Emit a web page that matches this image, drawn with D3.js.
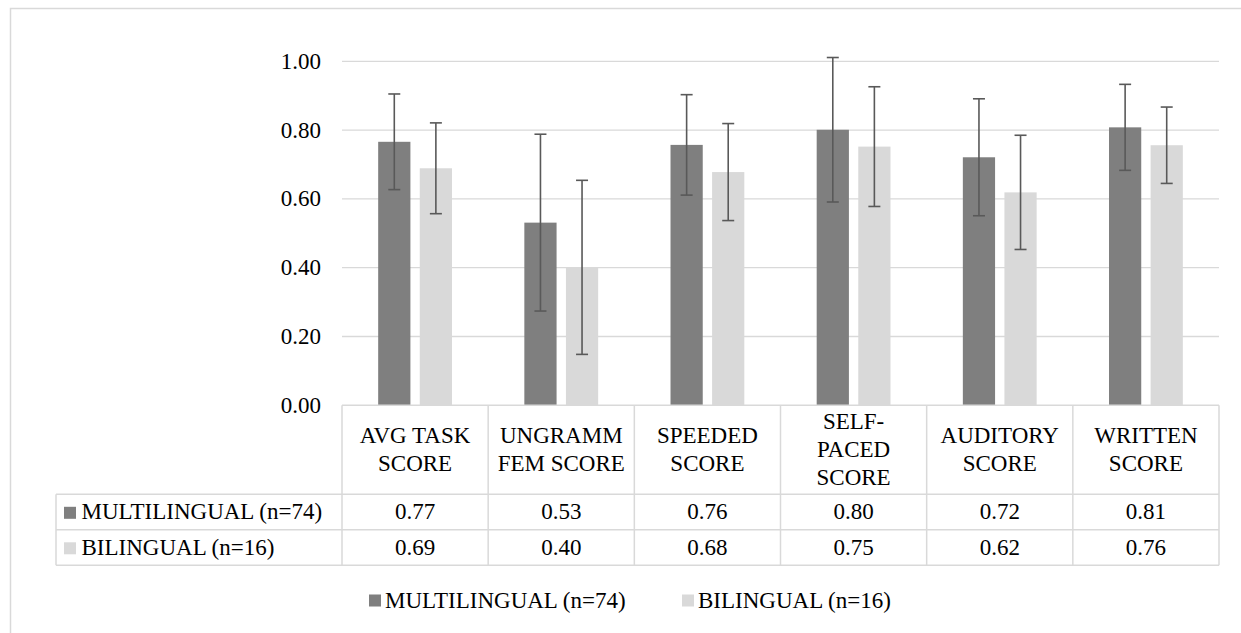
<!DOCTYPE html>
<html>
<head>
<meta charset="utf-8">
<script src="https://cdn.jsdelivr.net/npm/d3@7"></script>
<style>
	body { margin: 0; background: #fff; }
	svg text { font-family: "Liberation Serif", "Times New Roman", Times, serif !important; }
</style>
</head>
<body>
<svg id="chart" width="1241" height="633" font-family="Liberation Serif"></svg>
<script>
// data
let categories = [
	['AVG TASK', 'SCORE'],
	['UNGRAMM', 'FEM SCORE'],
	['SPEEDED', 'SCORE'],
	['SELF-', 'PACED', 'SCORE'],
	['AUDITORY', 'SCORE'],
	['WRITTEN', 'SCORE']
];
let series_names = ['MULTILINGUAL (n=74)', 'BILINGUAL (n=16)'];
let multi_values = [0.766, 0.531, 0.757, 0.801, 0.721, 0.808];
let bi_values = [0.689, 0.401, 0.678, 0.752, 0.619, 0.756];
let multi_err = [0.139, 0.257, 0.146, 0.210, 0.170, 0.125];
let bi_err = [0.132, 0.253, 0.141, 0.174, 0.166, 0.111];
let y_ticks = [0, 0.2, 0.4, 0.6, 0.8, 1.0];

let colors = ['#7f7f7f', '#d9d9d9'],
	grid_color = '#d9d9d9',
	err_color = '#595959';

let font_size = 23;

let plot = {left: 342, right: 1219, top: 61.3, bottom: 405.3};
let header_h = 89, row_h = 35.5, label_left = 56;

let svg = d3.select('#chart');

let rows = series_names.map((name, s) => ({
	name: name,
	values: s === 0 ? multi_values : bi_values,
	errs: s === 0 ? multi_err : bi_err
}));

let x0 = d3.scaleBand()
	.domain(d3.range(categories.length))
	.range([plot.left, plot.right]);
let x1 = d3.scaleBand()
	.domain(d3.range(series_names.length))
	.range([0, x0.bandwidth()])
	.paddingInner(0.225)
	.paddingOuter(0.87);
let y = d3.scaleLinear().domain([0, 1]).range([plot.bottom, plot.top]);

function add_text(g, x, y_pos, str, anchor) {
	return g.append('text')
		.attr('x', x)
		.attr('y', y_pos)
		.attr('text-anchor', anchor || 'start')
		.attr('font-family', 'Liberation Serif')
		.attr('font-size', font_size)
		.attr('fill', '#000')
		.text(str);
}

// outer frame
svg.append('rect')
	.attr('x', 10.5).attr('y', 8.5)
	.attr('width', 1300).attr('height', 700)
	.attr('fill', 'none')
	.attr('stroke', grid_color)
	.attr('stroke-width', 1.5);

// grid
let grid = svg.append('g').attr('class', 'grid');
grid.selectAll('line')
	.data(y_ticks.filter(d => d > 0))
	.enter().append('line')
	.attr('x1', plot.left).attr('x2', plot.right)
	.attr('y1', d => y(d)).attr('y2', d => y(d))
	.attr('stroke', grid_color)
	.attr('stroke-width', 1.3);

// y tick labels
let ylab = svg.append('g');
y_ticks.forEach(t => {
	add_text(ylab, 321, y(t) + 7.5, d3.format('.2f')(t), 'end');
});

// bars
let groups = svg.selectAll('.cat')
	.data(categories)
	.enter().append('g')
	.attr('class', 'cat')
	.attr('transform', (d, i) => `translate(${x0(i)},0)`);

rows.forEach((r, s) => {
	groups.append('rect')
		.attr('x', x1(s))
		.attr('width', x1.bandwidth())
		.attr('y', (d, i) => y(r.values[i]))
		.attr('height', (d, i) => y(0) - y(r.values[i]))
		.attr('fill', colors[s]);
});

// error bars
let cap = 6;
rows.forEach((r, s) => {
	let cx = x1(s) + x1.bandwidth() / 2;
	let eb = groups.append('g').attr('stroke', err_color).attr('stroke-width', 1.6);
	eb.append('line')
		.attr('x1', cx).attr('x2', cx)
		.attr('y1', (d, i) => y(r.values[i] + r.errs[i]))
		.attr('y2', (d, i) => y(r.values[i] - r.errs[i]));
	eb.append('line')
		.attr('x1', cx - cap).attr('x2', cx + cap)
		.attr('y1', (d, i) => y(r.values[i] + r.errs[i]))
		.attr('y2', (d, i) => y(r.values[i] + r.errs[i]));
	eb.append('line')
		.attr('x1', cx - cap).attr('x2', cx + cap)
		.attr('y1', (d, i) => y(r.values[i] - r.errs[i]))
		.attr('y2', (d, i) => y(r.values[i] - r.errs[i]));
});

// data table
let table = svg.append('g').attr('class', 'table');
let t_top = plot.bottom,
	t_rows = t_top + header_h,
	t_bottom = t_rows + row_h * rows.length;

let tline = (x1_, y1_, x2_, y2_) => table.append('line')
	.attr('x1', x1_).attr('y1', y1_).attr('x2', x2_).attr('y2', y2_)
	.attr('stroke', grid_color).attr('stroke-width', 1.5);

tline(plot.left, t_top, plot.right, t_top);
tline(label_left, t_rows, plot.right, t_rows);
for (let s = 1; s <= rows.length; s++)
	tline(label_left, t_rows + row_h * s, plot.right, t_rows + row_h * s);
tline(label_left, t_rows, label_left, t_bottom);
categories.forEach((c, i) => tline(x0(i), t_top, x0(i), t_bottom));
tline(plot.right, t_top, plot.right, t_bottom);

// header labels
let lh = 27.8, cap_h = 14.5;
categories.forEach((lines, i) => {
	let cx = x0(i) + x0.bandwidth() / 2,
		mid = t_top + header_h / 2;
	lines.forEach((ln, k) => {
		add_text(table, cx, mid + (k - (lines.length - 1) / 2) * lh + cap_h / 2, ln, 'middle');
	});
});

// value rows
rows.forEach((r, s) => {
	let cy = t_rows + row_h * s + row_h / 2 + cap_h / 2;
	table.append('rect')
		.attr('x', 64).attr('y', cy - 12.5)
		.attr('width', 12).attr('height', 12)
		.attr('fill', colors[s]);
	add_text(table, 81.5, cy, r.name);
	r.values.forEach((v, i) => {
		add_text(table, x0(i) + x0.bandwidth() / 2, cy, d3.format('.2f')(v), 'middle');
	});
});

// legend
let legend = svg.append('g').attr('class', 'legend');
let leg_x = [369, 682], leg_y = 607.5;
rows.forEach((r, s) => {
	legend.append('rect')
		.attr('x', leg_x[s]).attr('y', leg_y - 13)
		.attr('width', 12).attr('height', 12)
		.attr('fill', colors[s]);
	add_text(legend, leg_x[s] + 16, leg_y, r.name);
});
</script>
</body>
</html>
